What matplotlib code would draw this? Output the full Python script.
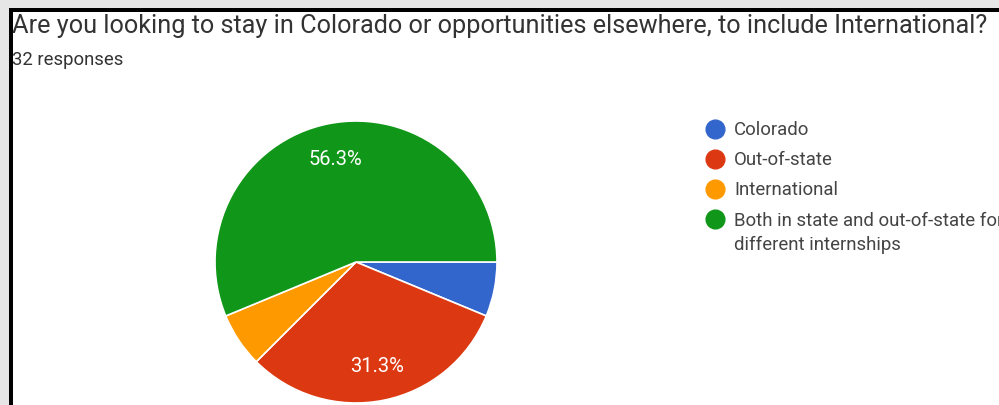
import math
import matplotlib
matplotlib.use("Agg")
import matplotlib.pyplot as plt
from matplotlib.patches import Rectangle

plt.rcParams['font.family'] = ['Roboto', 'DejaVu Sans']

# data
labels = ['Colorado', 'Out-of-state', 'International',
          'Both in state and out-of-state for\ndifferent internships']
counts = [2, 10, 2, 18]
colors = ['#3366cc', '#dc3912', '#ff9900', '#109618']
title = 'Are you looking to stay in Colorado or opportunities elsewhere, to include International?'
subtitle = '32 responses'

W, H = 999, 406
fig = plt.figure(figsize=(W / 100, H / 100), dpi=100, facecolor='#e6e6e6')
ax = fig.add_axes([0, 0, 1, 1])


def fy(y):
    # pixel row (from top) -> data y
    return H - y


# white card with black frame on top/left
ax.add_patch(Rectangle((9, fy(406)), W, 406 - 9, facecolor='black', edgecolor='none', zorder=0))
ax.add_patch(Rectangle((13, fy(406)), W, 406 - 13, facecolor='white', edgecolor='none', zorder=0))


def pct_label(p):
    # google rounds half up, hide small slices
    if p <= 10:
        return ''
    return '%.1f%%' % (math.floor(p * 10 + 0.5) / 10)


wedges, texts, autotexts = ax.pie(
    counts, colors=colors, startangle=0, counterclock=False,
    center=(356, fy(263)), radius=141, autopct=pct_label, pctdistance=0.75,
    wedgeprops=dict(edgecolor='white', linewidth=1.2),
    textprops=dict(color='white', fontsize=14.5))
for w in wedges:
    w.set_zorder(2)
for t in autotexts:
    t.set_zorder(3)

ax.set_xlim(0, W)
ax.set_ylim(0, H)
ax.set_aspect('auto')
ax.axis('off')

ax.text(12, fy(26), title, fontsize=18.2, color='#333333', va='center', ha='left', zorder=4)
ax.text(12, fy(60), subtitle, fontsize=13.3, color='#333333', va='center', ha='left', zorder=4)

# legend
for i, (lab, col) in enumerate(zip(labels, colors)):
    yy = 130 + 30 * i
    if '\n' in lab:
        yy += 13
    ax.scatter([715], [fy(130 + 30 * i)], s=13.5 ** 2, color=col, zorder=4, clip_on=False)
    ax.text(734, fy(yy), lab, fontsize=13.4, color='#444444', va='center',
            ha='left', linespacing=1.4, zorder=4)

fig.savefig('out.png', dpi=100, facecolor=fig.get_facecolor())
